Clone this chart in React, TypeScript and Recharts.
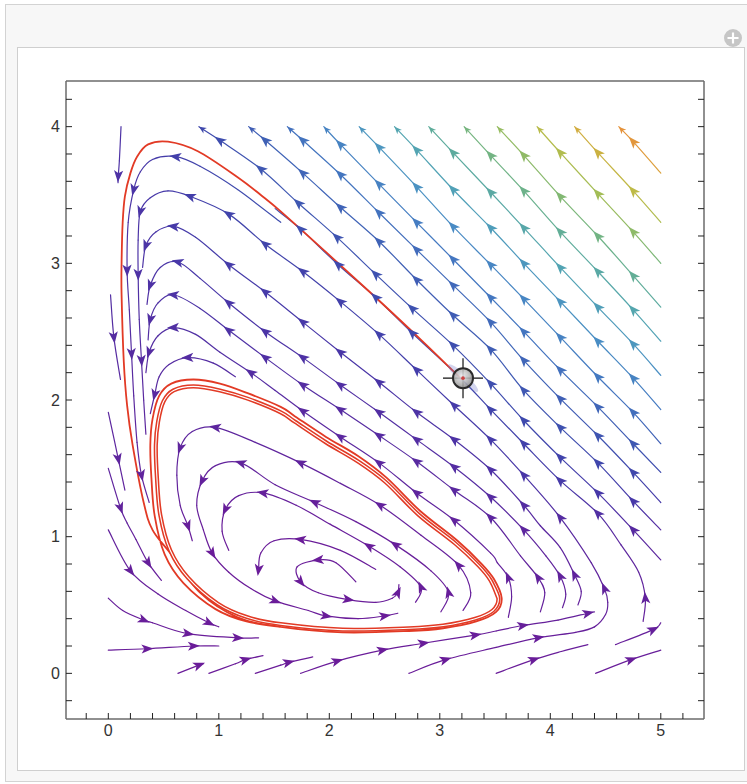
import React from 'react'
import { ScatterChart, Scatter, XAxis, YAxis } from 'recharts'

type Pt = number[]

// axis ranges (padding like Mathematica's frame)
const X_DOMAIN: [number, number] = [-0.383, 5.391]
const Y_DOMAIN: [number, number] = [-0.334, 4.334]
const xTicks = [-0.2, 0, 0.2, 0.4, 0.6, 0.8, 1, 1.2, 1.4, 1.6, 1.8, 2, 2.2, 2.4, 2.6, 2.8, 3, 3.2, 3.4, 3.6, 3.8, 4, 4.2, 4.4, 4.6, 4.8, 5, 5.2]
const yTicks = [-0.2, 0, 0.2, 0.4, 0.6, 0.8, 1, 1.2, 1.4, 1.6, 1.8, 2, 2.2, 2.4, 2.6, 2.8, 3, 3.2, 3.4, 3.6, 3.8, 4, 4.2]

// streamlines: [x, y] or [x, y, 1] (arrow) / [x, y, 2] (end arrow)
const diag1: Pt[] = [[5.0, 3.66], [4.75, 3.89, 1], [4.62, 4.0, 2]]
const diag2: Pt[] = [[5.0, 3.3], [4.75, 3.53, 1], [4.43, 3.81, 1], [4.22, 4.0, 2]]
const diag3: Pt[] = [[5.0, 3.0], [4.75, 3.23, 1], [4.43, 3.51, 1], [4.09, 3.81, 1], [3.88, 4.0, 2]]
const diag4: Pt[] = [[5.0, 2.68], [4.75, 2.91, 1], [4.43, 3.2, 1], [4.09, 3.49, 1], [3.76, 3.79, 1], [3.52, 4.0, 2]]
const diag5: Pt[] = [[5.0, 2.43], [4.75, 2.66, 1], [4.43, 2.94, 1], [4.09, 3.23, 1], [3.76, 3.53, 1], [3.46, 3.79, 1], [3.22, 4.0, 2]]
const diag6: Pt[] = [[5.0, 2.18], [4.75, 2.41, 1], [4.43, 2.68, 1], [4.09, 2.97, 1], [3.76, 3.26, 1], [3.46, 3.52, 1], [3.12, 3.81, 1], [2.9, 4.0, 2]]
const diag7: Pt[] = [[5.0, 1.93], [4.75, 2.16, 1], [4.43, 2.43, 1], [4.09, 2.72, 1], [3.76, 3.0, 1], [3.46, 3.26, 1], [3.12, 3.54, 1], [2.79, 3.83, 1], [2.59, 4.0, 2]]
const diag8: Pt[] = [[5.0, 1.68], [4.75, 1.91, 1], [4.43, 2.17, 1], [4.09, 2.46, 1], [3.76, 2.74, 1], [3.46, 2.99, 1], [3.12, 3.27, 1], [2.79, 3.56, 1], [2.45, 3.85, 1], [2.27, 4.0, 2]]
const diag9: Pt[] = [[5.0, 1.47], [4.75, 1.68, 1], [4.43, 1.95, 1], [4.09, 2.22, 1], [3.76, 2.5, 1], [3.46, 2.75, 1], [3.12, 3.03, 1], [2.79, 3.3, 1], [2.45, 3.58, 1], [2.1, 3.87, 1], [1.95, 4.0, 2]]
const diag10: Pt[] = [[5.0, 1.25], [4.75, 1.47, 1], [4.43, 1.74, 1], [4.09, 2.01, 1], [3.76, 2.29, 1], [3.46, 2.57, 1], [3.12, 2.84, 1], [2.79, 3.1, 1], [2.45, 3.37, 1], [2.1, 3.65, 1], [1.76, 3.9, 1], [1.62, 4.0, 2]]
const diag11: Pt[] = [[5.0, 1.05], [4.75, 1.26, 1], [4.43, 1.54, 1], [4.09, 1.8, 1], [3.76, 2.07, 1], [3.46, 2.37, 1], [3.12, 2.62, 1], [2.79, 2.88, 1], [2.45, 3.16, 1], [2.1, 3.41, 1], [1.76, 3.66, 1], [1.42, 3.9, 1], [1.27, 4.0, 2]]
const diag12: Pt[] = [[5.0, 0.83], [4.75, 1.05, 1], [4.43, 1.32, 1], [4.09, 1.58, 1], [3.76, 1.85, 1], [3.46, 2.12, 1], [3.12, 2.4, 1], [2.75, 2.67, 1], [2.42, 2.92, 1], [2.07, 3.19, 1], [1.72, 3.44, 1], [1.38, 3.69, 1], [1.01, 3.9, 1], [0.82, 4.0, 2]]

const hook1: Pt[] = [[4.84, 0.38], [4.86, 0.55, 1], [4.8, 0.74], [4.64, 0.94], [4.43, 1.17, 1], [4.09, 1.41, 1], [3.76, 1.68, 1], [3.46, 1.93, 1], [3.2, 2.15], [2.75, 2.49, 1], [2.42, 2.75, 1], [2.08, 2.99, 1], [1.74, 3.25, 1], [1.51, 3.4]]
const hook2: Pt[] = [[2.72, 0.0], [3.05, 0.1, 1], [3.51, 0.19], [3.89, 0.26, 1], [4.23, 0.3], [4.4, 0.34], [4.5, 0.43], [4.52, 0.52], [4.49, 0.62, 1], [4.37, 0.81], [4.09, 1.14, 1], [3.76, 1.45, 1], [3.46, 1.71, 1], [3.13, 1.96, 1], [2.79, 2.22, 1], [2.45, 2.48, 1], [2.1, 2.72, 1], [1.76, 2.94, 1], [1.42, 3.14, 1], [1.09, 3.36, 1], [0.74, 3.49, 1], [0.54, 3.53], [0.38, 3.48], [0.29, 3.38, 1], [0.27, 3.17], [0.27, 2.92, 1], [0.28, 2.59], [0.3, 2.29, 1], [0.32, 2.0], [0.34, 1.75]]
const hook3: Pt[] = [[4.25, 0.5], [4.28, 0.6], [4.22, 0.72, 1], [4.09, 0.92], [3.91, 1.08], [3.76, 1.23, 1], [3.46, 1.49, 1], [3.13, 1.71, 1], [2.79, 1.91, 1], [2.45, 2.13, 1], [2.1, 2.35, 1], [1.76, 2.57, 1], [1.42, 2.79, 1], [1.09, 2.99, 1], [0.79, 3.19], [0.59, 3.27, 1], [0.43, 3.23], [0.34, 3.13, 1], [0.31, 2.97]]
const hook4: Pt[] = [[4.11, 0.48], [4.14, 0.58], [4.09, 0.71, 1], [3.96, 0.86], [3.76, 1.05, 1], [3.46, 1.29, 1], [3.13, 1.51, 1], [2.79, 1.71, 1], [2.45, 1.91, 1], [2.1, 2.11, 1], [1.76, 2.31, 1], [1.42, 2.5, 1], [1.09, 2.71, 1], [0.83, 2.89], [0.63, 3.01, 1], [0.47, 2.97], [0.38, 2.84, 1], [0.35, 2.7]]
const hook5: Pt[] = [[3.91, 0.45], [3.95, 0.59], [3.89, 0.7, 1], [3.73, 0.86], [3.46, 1.14, 1], [3.13, 1.34, 1], [2.79, 1.55, 1], [2.45, 1.74, 1], [2.1, 1.93, 1], [1.76, 2.11, 1], [1.42, 2.31, 1], [1.09, 2.51, 1], [0.83, 2.67], [0.59, 2.77, 1], [0.45, 2.71], [0.38, 2.59, 1], [0.36, 2.44]]
const hook6: Pt[] = [[3.62, 0.41], [3.65, 0.56], [3.62, 0.7, 1], [3.52, 0.81], [3.46, 0.88], [3.13, 1.12, 1], [2.79, 1.32, 1], [2.45, 1.54, 1], [2.1, 1.73, 1], [1.76, 1.92, 1], [1.51, 2.07], [1.29, 2.2, 1], [1.01, 2.35], [0.79, 2.48], [0.59, 2.53, 1], [0.45, 2.47], [0.37, 2.35, 1], [0.34, 2.2]]
const arc7: Pt[] = [[1.15, 2.17], [0.95, 2.27], [0.72, 2.31, 1], [0.55, 2.26], [0.46, 2.17], [0.42, 2.04, 1], [0.38, 1.9]]
const hug: Pt[] = [[1.56, 3.3], [1.17, 3.54], [0.83, 3.71], [0.61, 3.78, 1], [0.4, 3.76], [0.29, 3.67], [0.23, 3.54, 1], [0.18, 3.3], [0.17, 2.95, 1], [0.19, 2.66], [0.21, 2.34, 1], [0.23, 2.03], [0.26, 1.69], [0.3, 1.45, 1], [0.37, 1.25]]

const left1: Pt[] = [[0.115, 4.0], [0.1, 3.75], [0.09, 3.64, 1], [0.088, 3.59]]
const left2: Pt[] = [[0.02, 2.77], [0.05, 2.46, 1], [0.11, 2.15]]
const left3: Pt[] = [[0.0, 1.91], [0.09, 1.57, 1], [0.15, 1.34]]
const left4: Pt[] = [[0.0, 1.5], [0.11, 1.21, 1], [0.17, 1.1], [0.25, 0.98], [0.36, 0.81, 1], [0.48, 0.68]]
const low1: Pt[] = [[0.0, 1.05], [0.2, 0.75, 1], [0.45, 0.58], [0.7, 0.46], [0.91, 0.37, 1], [1.0, 0.34]]
const low2: Pt[] = [[0.0, 0.55], [0.13, 0.46], [0.32, 0.39, 1], [0.4, 0.37], [0.72, 0.29, 1], [1.17, 0.26, 1], [1.36, 0.26]]
const bot1: Pt[] = [[0.0, 0.17], [0.35, 0.18, 1], [0.77, 0.2, 1], [1.0, 0.2]]
const bot2: Pt[] = [[0.63, 0.0], [0.82, 0.06, 1], [0.86, 0.07]]
const bot3: Pt[] = [[0.91, 0.0], [1.15, 0.07], [1.24, 0.1, 1], [1.4, 0.13]]
const bot4: Pt[] = [[1.33, 0.0], [1.56, 0.06], [1.63, 0.08, 1], [1.85, 0.12]]
const bot5: Pt[] = [[1.74, 0.0], [2.07, 0.09, 1], [2.48, 0.17, 1], [2.85, 0.22, 1], [3.32, 0.28, 1], [3.51, 0.31], [3.75, 0.35, 1], [4.07, 0.39], [4.34, 0.44, 1], [4.4, 0.45]]
const bot6: Pt[] = [[3.51, 0.0], [3.85, 0.1, 1], [4.1, 0.16], [4.34, 0.21]]
const bot7: Pt[] = [[4.59, 0.21], [4.93, 0.32, 1], [5.0, 0.37]]
const bot8: Pt[] = [[4.41, 0.0], [4.73, 0.1, 1], [5.0, 0.17]]

const inner1: Pt[] = [[3.21, 0.46], [3.28, 0.59], [3.17, 0.79, 1], [2.83, 1.01], [2.46, 1.23, 1], [2.1, 1.39], [1.74, 1.54, 1], [1.33, 1.69], [0.97, 1.8, 1], [0.76, 1.77], [0.65, 1.65, 1], [0.62, 1.45], [0.65, 1.23], [0.72, 1.08, 1], [0.76, 0.97]]
const inner2: Pt[] = [[3.01, 0.45], [3.08, 0.59, 1], [2.92, 0.75], [2.6, 0.94, 1], [2.24, 1.11], [1.87, 1.25, 1], [1.51, 1.38], [1.2, 1.54, 1], [0.97, 1.52], [0.85, 1.41, 1], [0.8, 1.23], [0.86, 1.05], [0.94, 0.88, 1], [1.09, 0.74], [1.29, 0.62], [1.51, 0.53, 1], [1.81, 0.46], [1.97, 0.42, 1], [2.26, 0.4], [2.5, 0.42, 1], [2.62, 0.44]]
const inner3: Pt[] = [[2.78, 0.52], [2.83, 0.63, 1], [2.64, 0.78], [2.36, 0.93, 1], [2.01, 1.09], [1.7, 1.23], [1.4, 1.32, 1], [1.18, 1.3], [1.06, 1.2, 1], [1.03, 1.04], [1.09, 0.9]]
const inner4: Pt[] = [[2.42, 0.76], [2.1, 0.9], [1.74, 0.98, 1], [1.5, 0.97], [1.38, 0.88], [1.36, 0.76, 1]]
const spiral: Pt[] = [[2.24, 0.67], [2.06, 0.81], [1.9, 0.83, 1], [1.71, 0.78], [1.74, 0.67, 1], [1.9, 0.59], [2.17, 0.54, 1], [2.42, 0.52], [2.57, 0.55], [2.62, 0.59, 1], [2.63, 0.65]]

const streams: Pt[][] = [
  diag1, diag2, diag3, diag4, diag5, diag6, diag7, diag8, diag9, diag10, diag11, diag12,
  hook1, hook2, hook3, hook4, hook5, hook6, arc7, hug,
  left1, left2, left3, left4, low1, low2, bot1, bot2, bot3, bot4, bot5, bot6, bot7, bot8,
  inner1, inner2, inner3, inner4, spiral,
]

// red trajectory from the locator, and the limit cycle it settles on
const trajectory: Pt[] = [[3.2, 2.15], [2.83, 2.44], [2.42, 2.75], [2.0, 3.06], [1.56, 3.38], [1.38, 3.5], [1.17, 3.63], [0.81, 3.82], [0.54, 3.89], [0.36, 3.87], [0.26, 3.78], [0.2, 3.66], [0.15, 3.49], [0.13, 3.3], [0.12, 3.0], [0.12, 2.77], [0.14, 2.28], [0.17, 1.96], [0.22, 1.67], [0.32, 1.25], [0.4, 1.05], [0.56, 0.88], [0.83, 0.59], [1.17, 0.41], [1.56, 0.34], [2.12, 0.3], [2.72, 0.31], [3.03, 0.33], [3.33, 0.38], [3.51, 0.45], [3.56, 0.55], [3.49, 0.69], [3.38, 0.8], [3.16, 0.97], [2.82, 1.19], [2.52, 1.43], [2.26, 1.59], [1.97, 1.73], [1.69, 1.88], [1.56, 1.95], [1.26, 2.05], [1.01, 2.12], [0.77, 2.15], [0.57, 2.12], [0.46, 2.03], [0.4, 1.86], [0.38, 1.67], [0.39, 1.43], [0.42, 1.15], [0.51, 0.87], [0.68, 0.66], [0.97, 0.47], [1.25, 0.38], [1.56, 0.34]]
const limitCycle: Pt[] = [[3.53, 0.55], [3.46, 0.68], [3.35, 0.79], [3.14, 0.95], [2.81, 1.16], [2.51, 1.4], [2.26, 1.55], [1.97, 1.69], [1.69, 1.84], [1.56, 1.91], [1.26, 2.01], [1.01, 2.07], [0.77, 2.1], [0.59, 2.07], [0.5, 1.99], [0.45, 1.84], [0.43, 1.67], [0.44, 1.43], [0.47, 1.16], [0.56, 0.9], [0.72, 0.7], [0.99, 0.51], [1.26, 0.41], [1.56, 0.36], [2.12, 0.32], [2.72, 0.33], [3.03, 0.35], [3.32, 0.4], [3.48, 0.46], [3.53, 0.55], [3.46, 0.68]]
const locator = [{ x: 3.21, y: 2.16 }]

// colour by speed: palette and a coarse speed table (x = 0..5, y = 0..4)
const PALETTE = ['#6a1c99', '#5a289f', '#4738a8', '#3e4aad', '#3f60b5', '#4478c1', '#4a8fc4', '#52a3b5', '#5eac9c', '#78b67d', '#9dbd5a', '#bdbb47', '#d6a93d', '#e6903a']
const speedGrid = [
  [0, 0, 0, 0, 0, 0],
  [0.5, 0, 0, 0.3, 0.8, 1.0],
  [1.0, 1.0, 1.2, 2.0, 3.8, 5.3],
  [1.5, 2.2, 2.8, 4.5, 7.0, 9.0],
  [1.5, 3.2, 5.6, 8.3, 11.2, 14.0],
]

const FONT = 'Liberation Sans, Arial, sans-serif'
const FRAME = '#6b6b6b'
const RED = '#e23a25'
const HEAD = 'M6.5,0L-5.5,4.6L-2.6,0L-5.5,-4.6Z'
const TIP = 'M0,0L-7.5,3.2L-5.3,0L-7.5,-3.2Z'

const hex = (h: string) => [1, 3, 5].map((k) => parseInt(h.slice(k, k + 2), 16))

function colorAt(x: number, y: number) {
  const gx = Math.min(Math.max(x, 0), 4.999)
  const gy = Math.min(Math.max(y, 0), 3.999)
  const i = Math.floor(gx), j = Math.floor(gy)
  const fx = gx - i, fy = gy - j
  const g = speedGrid
  const top = g[j][i] + (g[j][i + 1] - g[j][i]) * fx
  const bot = g[j + 1][i] + (g[j + 1][i + 1] - g[j + 1][i]) * fx
  const v = Math.min(Math.max(top + (bot - top) * fy, 0), PALETTE.length - 1.001)
  const k = Math.floor(v), f = v - k
  const a = hex(PALETTE[k]), b = hex(PALETTE[k + 1])
  const c = a.map((av, n) => Math.round(av + (b[n] - av) * f))
  return `rgb(${c[0]},${c[1]},${c[2]})`
}

const rows = (src: Pt[]) => src.map((p) => ({ x: p[0], y: p[1] }))
const pix = (pts: any[]) => (pts || []).map((p: any) => ({ x: p.x ?? p.cx, y: p.y ?? p.cy }))
const label = (v: number) => (Number.isInteger(v) ? String(v) : '')

function seg(P: { x: number; y: number }[], i: number) {
  const p0 = P[i - 1] || P[i], p1 = P[i], p2 = P[i + 1], p3 = P[i + 2] || P[i + 1]
  const c1x = p1.x + (p2.x - p0.x) / 6, c1y = p1.y + (p2.y - p0.y) / 6
  const c2x = p2.x - (p3.x - p1.x) / 6, c2y = p2.y - (p3.y - p1.y) / 6
  return `C${c1x},${c1y} ${c2x},${c2y} ${p2.x},${p2.y}`
}

function smooth(P: { x: number; y: number }[]) {
  if (!P.length) return ''
  let d = `M${P[0].x},${P[0].y}`
  for (let i = 0; i < P.length - 1; i++) d += seg(P, i)
  return d
}

const Empty = () => <g />

function StreamPath(props: any) {
  const src: Pt[] = props.src
  const P = pix(props.points)
  return (
    <g>
      {P.slice(0, -1).map((p, i) => {
        const q = P[i + 1]
        const id = `sg${props.idx}_${i}`
        return (
          <g key={i}>
            <defs>
              <linearGradient id={id} gradientUnits="userSpaceOnUse" x1={p.x} y1={p.y} x2={q.x} y2={q.y}>
                <stop offset="0" stopColor={colorAt(src[i][0], src[i][1])} />
                <stop offset="1" stopColor={colorAt(src[i + 1][0], src[i + 1][1])} />
              </linearGradient>
            </defs>
            <path d={`M${p.x},${p.y}` + seg(P, i)} fill="none" stroke={`url(#${id})`} strokeWidth={1.2} strokeLinecap="round" />
          </g>
        )
      })}
    </g>
  )
}

function ArrowSet(props: any) {
  const src: Pt[] = props.src
  const P = pix(props.points)
  return (
    <g>
      {src.map((q, i) => {
        if (!q[2] || !P[i]) return null
        const a = P[Math.max(0, i - 1)], b = P[Math.min(P.length - 1, i + 1)]
        const ang = (Math.atan2(b.y - a.y, b.x - a.x) * 180) / Math.PI
        return (
          <path key={i} d={q[2] === 2 ? TIP : HEAD} transform={`translate(${P[i].x},${P[i].y}) rotate(${ang})`} fill={colorAt(q[0], q[1])} />
        )
      })}
    </g>
  )
}

function RedPath(props: any) {
  const d = smooth(pix(props.points))
  return (
    <g>
      <path d={d} fill="none" stroke={RED} strokeWidth={props.w} strokeLinejoin="round" />
      {props.gap ? <path d={d} fill="none" stroke="#fff" strokeWidth={1.1} /> : null}
    </g>
  )
}

function Locator(props: any) {
  const { cx, cy } = props
  return (
    <g>
      <defs>
        <radialGradient id="locFill" cx="45%" cy="40%" r="60%">
          <stop offset="0" stopColor="#f2f2f2" />
          <stop offset="1" stopColor="#8c8c8c" />
        </radialGradient>
      </defs>
      <ellipse cx={cx} cy={cy} rx={20} ry={4.5} fill="#6c74c8" opacity={0.3} transform={`rotate(42 ${cx} ${cy})`} />
      <line x1={cx - 20} x2={cx + 20} y1={cy} y2={cy} stroke="#111" strokeWidth={1.2} />
      <line x1={cx} x2={cx} y1={cy - 20} y2={cy + 20} stroke="#111" strokeWidth={1.2} />
      <circle cx={cx} cy={cy} r={10} fill="url(#locFill)" fillOpacity={0.85} stroke="#2b2b2b" strokeWidth={2} />
      <circle cx={cx} cy={cy} r={1.8} fill="#c44" />
    </g>
  )
}

const tickFont = { fontSize: 16, fill: '#333', fontFamily: FONT }
const frameLine = { stroke: FRAME, strokeWidth: 1.5 }

export default function App() {
  return (
    <div style={{ position: 'absolute', left: 0, top: 0, width: 747, height: 784, overflow: 'hidden', background: '#fff' }}>
      <div style={{ position: 'absolute', left: 5, top: 4, width: 790, height: 776, background: '#f7f7f7', border: '1px solid #d3d3d3' }} />
      <div style={{ position: 'absolute', left: 17, top: 47, width: 726, height: 722, background: '#fff', border: '1px solid #cfcfcf' }} />
      <svg style={{ position: 'absolute', left: 723, top: 28 }} width={20} height={20}>
        <circle cx={10} cy={10} r={9} fill="#c6c6c6" />
        <path d="M10 4.5v11M4.5 10h11" stroke="#fff" strokeWidth={2.2} />
      </svg>
      <div style={{ position: 'absolute', left: 0, top: 0 }}>
        <ScatterChart width={747} height={784} margin={{ top: 80, right: 42, bottom: 64, left: 65 }}>
          <XAxis dataKey="x" type="number" domain={X_DOMAIN} allowDataOverflow ticks={xTicks} interval={0}
            height={1} tickSize={-6} tickMargin={12} tickFormatter={label} stroke="#222"
            axisLine={frameLine} tick={tickFont} />
          <YAxis dataKey="y" type="number" domain={Y_DOMAIN} allowDataOverflow ticks={yTicks} interval={0}
            width={1} tickSize={-6} tickMargin={12} tickFormatter={label} stroke="#222"
            axisLine={frameLine} tick={tickFont} />
          <XAxis xAxisId="top" orientation="top" type="number" domain={X_DOMAIN} allowDataOverflow ticks={xTicks} interval={0}
            height={1} tickSize={-6} tickFormatter={() => ''} stroke="#222" axisLine={frameLine} />
          <YAxis yAxisId="right" orientation="right" type="number" domain={Y_DOMAIN} allowDataOverflow ticks={yTicks} interval={0}
            width={1} tickSize={-6} tickFormatter={() => ''} stroke="#222" axisLine={frameLine} />

          {streams.map((s, i) => (
            <Scatter key={`l${i}`} data={rows(s)} shape={Empty} line={<StreamPath src={s} idx={i} />} isAnimationActive={false} />
          ))}
          <Scatter data={rows(trajectory)} shape={Empty} line={<RedPath w={1.8} />} isAnimationActive={false} />
          <Scatter data={rows(limitCycle)} shape={Empty} line={<RedPath w={4.2} gap />} isAnimationActive={false} />
          {streams.map((s, i) => (
            <Scatter key={`a${i}`} data={rows(s)} shape={Empty} line={<ArrowSet src={s} />} isAnimationActive={false} />
          ))}
          <Scatter data={locator} shape={Locator} isAnimationActive={false} />
        </ScatterChart>
      </div>
    </div>
  )
}
